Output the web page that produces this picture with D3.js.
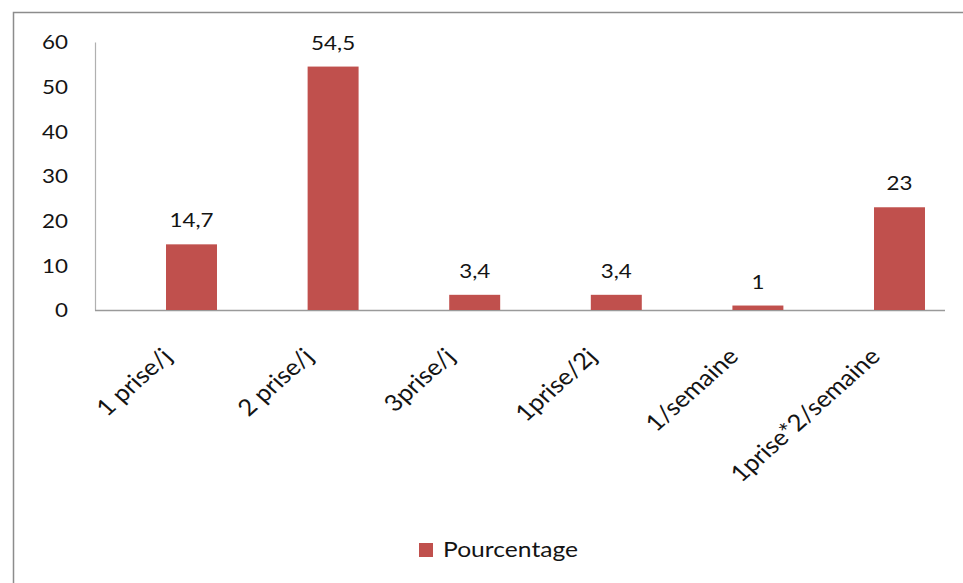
<!DOCTYPE html>
<html>
<head>
<meta charset="utf-8">
<script src="https://cdn.jsdelivr.net/npm/d3@7"></script>
<style>
  html, body { margin: 0; padding: 0; background: #fff; }
  svg { display: block; }
  text { font-family: Lato, "Open Sans", sans-serif; fill: #141414; }
</style>
</head>
<body>
<svg id="chart" width="963" height="583"></svg>
<script>
const categories = ["1 prise/j", "2 prise/j", "3prise/j", "1prise/2j", "1/semaine", "1prise*2/semaine"];
const values = [14.7, 54.5, 3.4, 3.4, 1, 23];
const valueLabels = ["14,7", "54,5", "3,4", "3,4", "1", "23"];
const yTicks = [0, 10, 20, 30, 40, 50, 60];
const seriesName = "Pourcentage";
const barColor = "#C0504D";

const SX = 1.12; // horizontal stretch of the original picture

const svg = d3.select("#chart");

// chart border
svg.append("rect")
  .attr("x", 13.5).attr("y", 12.5)
  .attr("width", 1000).attr("height", 1000)
  .attr("fill", "none").attr("stroke", "#8c8c8c").attr("stroke-width", 1.5);

const plotLeft = 95, plotRight = 945, plotTop = 42, plotBottom = 310;

const y = d3.scaleLinear().domain([0, 60]).range([plotBottom, plotTop]);
const x = d3.scaleBand().domain(categories).range([120.7, 970.3]).padding(0);
const barW = x.bandwidth() * 0.36;
const cx = c => x(c) + x.bandwidth() / 2;

// y axis
const yAxis = d3.axisLeft(y).tickValues(yTicks).tickSize(0).tickFormat("");
const gy = svg.append("g").attr("transform", `translate(${plotLeft},0)`).call(yAxis);
gy.select(".domain").attr("stroke", "#b0b0b0").attr("stroke-width", 1.2);
gy.selectAll(".tick text").remove();

svg.selectAll("text.ytick").data(yTicks).enter().append("text")
  .attr("class", "ytick")
  .attr("text-anchor", "end")
  .attr("dy", "0.36em")
  .attr("transform", d => `translate(68,${y(d)}) scale(${SX},1)`)
  .style("font-size", "20px")
  .text(d => d);

// x axis line
svg.append("line")
  .attr("x1", plotLeft).attr("x2", plotRight)
  .attr("y1", plotBottom + 0.5).attr("y2", plotBottom + 0.5)
  .attr("stroke", "#9a9a9a").attr("stroke-width", 1.3);

// bars
svg.selectAll("rect.bar").data(values).enter().append("rect")
  .attr("class", "bar")
  .attr("x", (d, i) => cx(categories[i]) - barW / 2)
  .attr("width", barW)
  .attr("y", d => y(d))
  .attr("height", d => y(0) - y(d))
  .attr("fill", barColor);

// value labels
svg.selectAll("text.vlab").data(values).enter().append("text")
  .attr("class", "vlab")
  .attr("text-anchor", "middle")
  .attr("transform", (d, i) => `translate(${cx(categories[i])},${y(d) - 17}) scale(${SX},1)`)
  .style("font-size", "20px")
  .text((d, i) => valueLabels[i]);

// category labels (rotated)
svg.selectAll("text.clab").data(categories).enter().append("text")
  .attr("class", "clab")
  .attr("text-anchor", "end")
  .attr("transform", d => `translate(${cx(d) - 18},${plotBottom + 48}) scale(${SX},1) rotate(-45)`)
  .style("font-size", "23px")
  .text(d => d);

// legend
const lg = svg.append("g");
lg.append("rect").attr("x", 419).attr("y", 543).attr("width", 14).attr("height", 14).attr("fill", barColor);
lg.append("text").attr("transform", `translate(443,557) scale(${SX},1)`).style("font-size", "22px").text(seriesName);
</script>
</body>
</html>
